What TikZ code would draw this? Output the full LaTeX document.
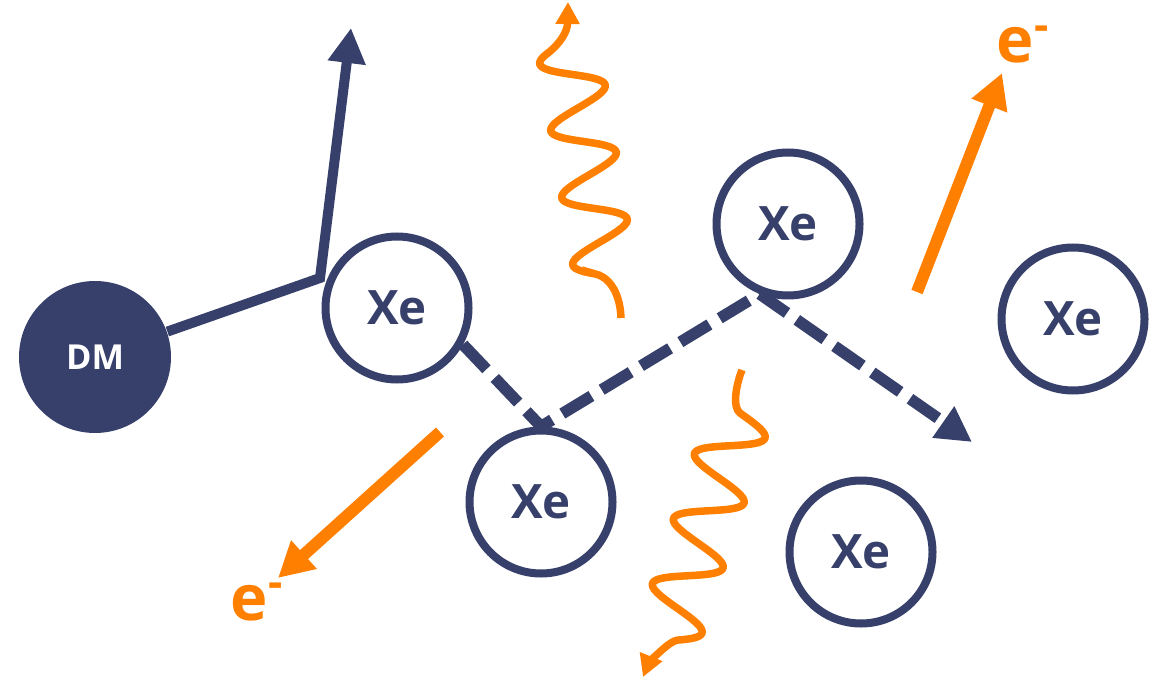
\documentclass[tikz,border=0pt]{standalone}
\usepackage{fontspec}
\setmainfont{Open Sans}
\usepackage{xcolor}
\usetikzlibrary{arrows.meta}
\definecolor{azulxe}{RGB}{54,64,106}
\definecolor{laranja}{RGB}{255,128,0}
\tikzset{
  atomo/.style={circle, draw=azulxe, line width=0.08cm, fill=white, minimum size=1.43cm, inner sep=0pt, text=azulxe, font=\fontsize{13.5}{15}\selectfont\bfseries},
  materia/.style={circle, fill=azulxe, minimum size=1.52cm, inner sep=0pt, text=white, font=\fontsize{9.8}{11}\selectfont\bfseries},
  recuo/.style={azulxe, line width=0.1cm, -{Triangle[length=0.35cm, width=0.36cm]}},
  espalha/.style={azulxe, line width=0.115cm, dash pattern=on 0.34cm off 0.12cm, -{Triangle[length=0.35cm, width=0.36cm]}},
  eletron/.style={laranja, line width=0.12cm, -{Triangle[length=0.35cm, width=0.36cm]}},
  foton/.style={laranja, line width=0.075cm, -{Triangle[length=0.22cm, width=0.23cm]}},
  rotulo/.style={text=laranja, inner sep=0pt, font=\fontsize{18}{20}\selectfont\bfseries},
}

\begin{document}
\begin{tikzpicture}
  \useasboundingbox (0,0) rectangle (11.58,6.81);
  % particulas
  \node[materia] (dm) at (0.95,3.24) {DM};
  \node[atomo] (xa) at (3.97,3.73) {Xe};
  \node[atomo] (xb) at (7.88,4.57) {Xe};
  \node[atomo] (xc) at (10.73,3.62) {Xe};
  \node[atomo] (xd) at (5.41,1.79) {Xe};
  \node[atomo] (xe) at (8.61,1.29) {Xe};
  \coordinate (kink) at (3.20,4.03);
  \coordinate (tipdm) at (3.51,6.53);
  \coordinate (tipxe) at (9.72,2.39);
  % recuo e espalhamento
  \draw[recuo] (dm) -- (kink) -- (tipdm);
  \draw[espalha] (xa.-29) -- (xd.north) -- (xb.-112) -- (tipxe);
  % eletrons
  \coordinate (e1de) at (4.40,2.49);
  \coordinate (e1para) at (2.78,1.03);
  \coordinate (e2de) at (9.17,3.89);
  \coordinate (e2para) at (10.02,6.08);
  \draw[eletron] (e1de) -- (e1para);
  \draw[eletron] (e2de) -- (e2para);
  \node[rotulo, anchor=base west] (eesq) at (2.30,0.61) {e\textsuperscript{-}};
  \node[rotulo, anchor=base west] (edir) at (9.96,6.18) {e\textsuperscript{-}};
  % fotons
  \draw[foton] (6.21,3.63) .. controls (6.20,3.91) and (6.07,4.05) .. (5.946,4.072)
    -- plot[domain=-160:1035, samples=150, smooth] ({6.0-0.11*\x/360+0.3*sin(\x)}, {4.39+0.67*\x/360+0.06*sin(\x)})
    .. controls (5.61,6.38) and (5.675,6.5) .. (5.68,6.79);
  \draw[foton] (7.42,3.11) .. controls (7.36,2.96) and (7.32,2.735) .. (7.4025,2.6775)
    -- plot[domain=0:1240, samples=150, smooth] ({7.4025-0.21*\x/360+0.3*sin(\x)}, {2.6775-0.65*\x/360-0.085*sin(\x)})
    .. controls (6.67,0.40) and (6.47,0.14) .. (6.43,0.04);
\end{tikzpicture}
\end{document}
